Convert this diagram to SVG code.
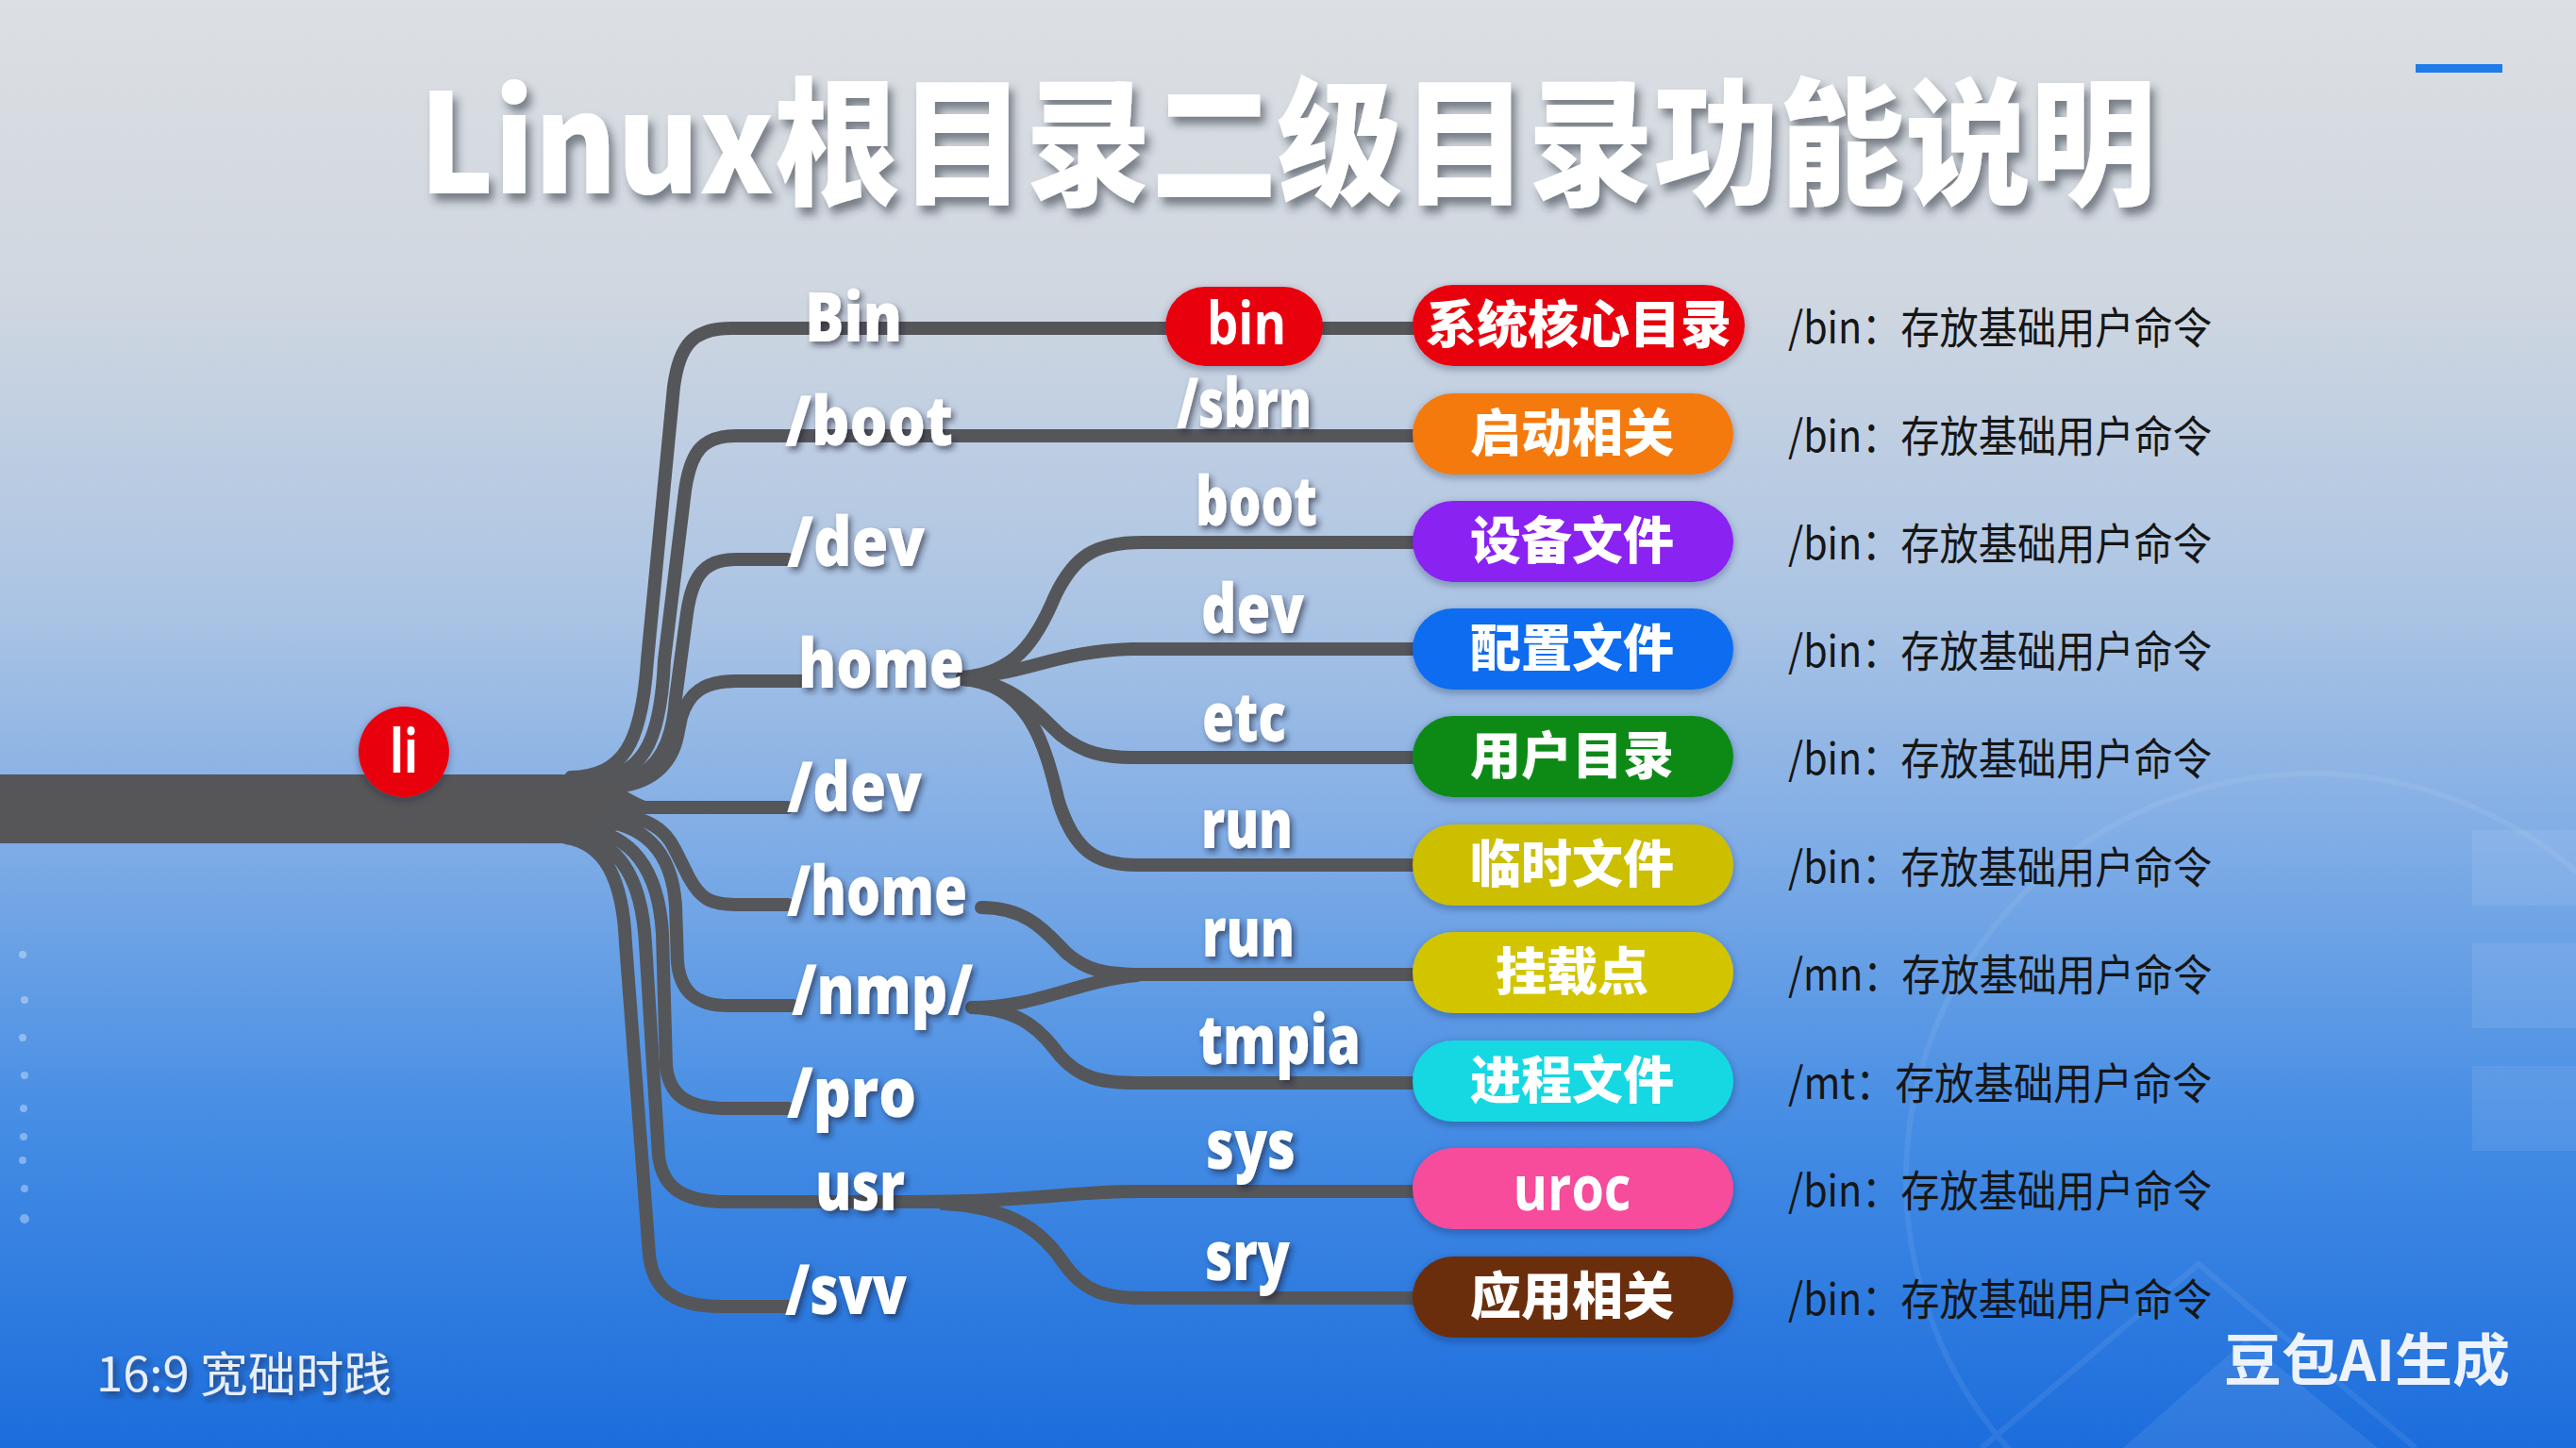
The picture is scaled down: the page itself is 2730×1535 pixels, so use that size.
<svg xmlns="http://www.w3.org/2000/svg" width="2730" height="1535" viewBox="0 0 2730 1535">
<defs>
  <linearGradient id="bg" x1="0" y1="0" x2="0" y2="1">
    <stop offset="0" stop-color="#dcdfe3"/>
    <stop offset="0.2" stop-color="#d0d7e0"/>
    <stop offset="0.42" stop-color="#abc4e4"/>
    <stop offset="0.58" stop-color="#80ade6"/>
    <stop offset="0.78" stop-color="#448ce4"/>
    <stop offset="1" stop-color="#1c6ddc"/>
  </linearGradient>
  <filter id="tshadow" x="-10%" y="-20%" width="130%" height="150%">
    <feDropShadow dx="5" dy="8" stdDeviation="5" flood-color="#2a2f3a" flood-opacity="0.55"/>
  </filter>
  <filter id="lshadow" x="-20%" y="-30%" width="150%" height="170%">
    <feDropShadow dx="3" dy="4" stdDeviation="3" flood-color="#1a2030" flood-opacity="0.6"/>
  </filter>
  <filter id="pshadow" x="-10%" y="-20%" width="130%" height="160%">
    <feDropShadow dx="0" dy="3" stdDeviation="4" flood-color="#10203a" flood-opacity="0.35"/>
  </filter>
  <style>
    .conn { fill: none; stroke: #555659; stroke-width: 14; stroke-linecap: round; stroke-linejoin: round; }
    .l1, .l2 { font-family: "Open Sans", "Noto Sans", sans-serif; font-weight: 800; font-size: 72px; fill: #ffffff; filter: url(#lshadow); }
    .pl { font-family: "Noto Sans CJK SC", "Noto Sans", sans-serif; font-weight: 900; font-size: 54px; fill: #ffffff; text-anchor: middle; }
    .pe { font-family: "Open Sans", "Noto Sans", sans-serif; font-weight: 700; fill: #ffffff; text-anchor: middle; }
    .desc { font-family: "Noto Sans CJK SC", "Noto Sans", sans-serif; font-size: 46px; fill: #161616; }
    .pill { filter: url(#pshadow); }
  </style>
</defs>

<rect x="0" y="0" width="2730" height="1535" fill="url(#bg)"/>
<!-- faint background decoration -->
<g opacity="0.07" fill="none" stroke="#ffffff" stroke-width="6">
  <circle cx="2450" cy="1250" r="430"/>
  <path d="M2100 1535 L2330 1340 L2560 1535"/>
</g>
<g opacity="0.08" fill="#ffffff">
  <rect x="2620" y="880" width="110" height="80"/>
  <rect x="2620" y="1000" width="110" height="90"/>
  <rect x="2620" y="1130" width="110" height="90"/>
  <polygon points="2250,1535 2380,1420 2520,1535"/>
</g>
<g fill="#ffffff" opacity="0.35">
  <circle cx="24" cy="1012" r="4"/><circle cx="26" cy="1060" r="4"/><circle cx="24" cy="1100" r="4"/>
  <circle cx="26" cy="1140" r="4"/><circle cx="25" cy="1175" r="4"/><circle cx="25" cy="1205" r="4"/>
  <circle cx="24" cy="1230" r="4"/><circle cx="26" cy="1260" r="4"/><circle cx="26" cy="1292" r="5"/>
</g>

<rect x="2560" y="68" width="92" height="9" fill="#1f7be8"/>

<g id="title">
  <text x="444" y="205" textLength="1841" lengthAdjust="spacingAndGlyphs" font-family="'Noto Sans CJK SC', 'Noto Sans', sans-serif" font-weight="900" font-size="146" fill="#ffffff" filter="url(#tshadow)">Linux根目录二级目录功能说明</text>
</g>

<!-- connectors -->
<g id="connectors">
  <path class="trunk" d="M0 821 L608 821 C645 821 662 842 690 851 L690 861 C662 870 645 894 608 894 L0 894 Z" fill="#565659"/>
  <!-- root to level 1 -->
  <path class="conn" d="M605 824 C660 822 680 790 686 700 L714 410 C720 365 735 348 775 348 L1497 348"/>
  <path class="conn" d="M625 826 C680 824 700 790 704 700 L726 520 C732 478 745 462 780 462 L1497 462"/>
  <path class="conn" d="M640 830 C690 828 712 800 716 740 L728 650 C734 608 748 593 780 593 L835 593"/>
  <path class="conn" d="M650 834 C690 832 712 810 718 780 L722 760 C730 735 745 722 780 722 L850 722"/>
  <path class="conn" d="M640 856 L835 856"/>
  <path class="conn" d="M640 862 C690 866 705 880 715 900 L730 930 C742 952 752 959 780 959 L835 959"/>
  <path class="conn" d="M630 870 C680 872 712 900 716 960 L718 1020 C721 1052 738 1066 772 1066 L840 1066"/>
  <path class="conn" d="M620 880 C668 884 698 920 702 990 L706 1130 C709 1160 727 1175 770 1175 L835 1175"/>
  <path class="conn" d="M610 886 C655 892 680 930 684 1000 L698 1225 C702 1260 725 1274 770 1274 L1000 1274"/>
  <path class="conn" d="M600 888 C640 894 660 930 663 1000 L688 1330 C692 1368 715 1385 765 1385 L835 1385"/>
  <!-- level 1 to level 2 -->
  <path class="conn" d="M1020 718 C1075 714 1098 680 1118 632 C1138 590 1160 575 1210 575 L1497 575"/>
  <path class="conn" d="M1020 718 C1085 716 1120 690 1200 688 L1497 688"/>
  <path class="conn" d="M1020 720 C1075 722 1100 758 1125 780 C1148 798 1170 803 1200 803 L1497 803"/>
  <path class="conn" d="M1020 720 C1090 725 1108 790 1122 850 C1138 900 1160 917 1205 917 L1497 917"/>
  <path class="conn" d="M1040 962 C1090 962 1110 990 1130 1010 C1150 1028 1170 1033 1210 1033 L1497 1033"/>
  <path class="conn" d="M1030 1068 C1100 1068 1140 1040 1205 1034"/>
  <path class="conn" d="M1030 1068 C1088 1070 1108 1100 1124 1120 C1144 1142 1165 1148 1205 1148 L1497 1148"/>
  <path class="conn" d="M960 1274 C1100 1274 1130 1263 1205 1263 L1497 1263"/>
  <path class="conn" d="M1000 1276 C1078 1280 1108 1310 1128 1340 C1148 1368 1170 1376 1210 1376 L1497 1376"/>
</g>

<g id="root">
  <circle cx="428" cy="797" r="48" fill="#e8060f" filter="url(#pshadow)"/>
  <text x="413" y="819" textLength="30" lengthAdjust="spacingAndGlyphs" font-family="'Open Sans', sans-serif" font-weight="700" font-size="64" fill="#ffffff">li</text>
</g>

<!-- level 1 labels -->
<g id="l1-bin"><text class="l1" x="853" y="362" textLength="103" lengthAdjust="spacingAndGlyphs">Bin</text></g>
<g id="l1-boot"><text class="l1" x="832" y="472" textLength="178" lengthAdjust="spacingAndGlyphs">/boot</text></g>
<g id="l1-dev1"><text class="l1" x="834" y="600" textLength="146" lengthAdjust="spacingAndGlyphs">/dev</text></g>
<g id="l1-home"><text class="l1" x="846" y="729" textLength="176" lengthAdjust="spacingAndGlyphs">home</text></g>
<g id="l1-dev2"><text class="l1" x="834" y="860" textLength="143" lengthAdjust="spacingAndGlyphs">/dev</text></g>
<g id="l1-home2"><text class="l1" x="834" y="970" textLength="191" lengthAdjust="spacingAndGlyphs">/home</text></g>
<g id="l1-nmp"><text class="l1" x="839" y="1075" textLength="192" lengthAdjust="spacingAndGlyphs">/nmp/</text></g>
<g id="l1-pro"><text class="l1" x="834" y="1184" textLength="137" lengthAdjust="spacingAndGlyphs">/pro</text></g>
<g id="l1-usr"><text class="l1" x="864" y="1283" textLength="95" lengthAdjust="spacingAndGlyphs">usr</text></g>
<g id="l1-svv"><text class="l1" x="832" y="1393" textLength="129" lengthAdjust="spacingAndGlyphs">/svv</text></g>

<!-- level 2 labels -->
<g id="n-bin">
  <rect class="pill" x="1235" y="304" width="167" height="84" rx="42" fill="#e8060f"/>
  <text class="pe" x="1321" y="365" font-size="62" textLength="84" lengthAdjust="spacingAndGlyphs">bin</text>
</g>
<g id="l2-sbrn"><text class="l2" x="1247" y="453" textLength="143" lengthAdjust="spacingAndGlyphs">/sbrn</text></g>
<g id="l2-boot"><text class="l2" x="1267" y="557" textLength="129" lengthAdjust="spacingAndGlyphs">boot</text></g>
<g id="l2-dev"><text class="l2" x="1273" y="671" textLength="109" lengthAdjust="spacingAndGlyphs">dev</text></g>
<g id="l2-etc"><text class="l2" x="1274" y="786" textLength="89" lengthAdjust="spacingAndGlyphs">etc</text></g>
<g id="l2-run1"><text class="l2" x="1273" y="899" textLength="97" lengthAdjust="spacingAndGlyphs">run</text></g>
<g id="l2-run2"><text class="l2" x="1274" y="1014" textLength="98" lengthAdjust="spacingAndGlyphs">run</text></g>
<g id="l2-tmpia"><text class="l2" x="1270" y="1128" textLength="172" lengthAdjust="spacingAndGlyphs">tmpia</text></g>
<g id="l2-sys"><text class="l2" x="1278" y="1239" textLength="95" lengthAdjust="spacingAndGlyphs">sys</text></g>
<g id="l2-sry"><text class="l2" x="1277" y="1357" textLength="90" lengthAdjust="spacingAndGlyphs">sry</text></g>

<!-- category pills -->
<g id="p1"><rect class="pill" x="1497" y="302" width="352" height="86" rx="43" fill="#e8060f"/><text class="pl" x="1673" y="364">系统核心目录</text></g>
<g id="p2"><rect class="pill" x="1497" y="417" width="340" height="86" rx="43" fill="#f47a0e"/><text class="pl" x="1666" y="479">启动相关</text></g>
<g id="p3"><rect class="pill" x="1497" y="531" width="340" height="86" rx="43" fill="#8a22f2"/><text class="pl" x="1666" y="593">设备文件</text></g>
<g id="p4"><rect class="pill" x="1497" y="645" width="340" height="86" rx="43" fill="#0c6cf0"/><text class="pl" x="1666" y="707">配置文件</text></g>
<g id="p5"><rect class="pill" x="1497" y="759" width="340" height="86" rx="43" fill="#0b8a14"/><text class="pl" x="1666" y="821">用户目录</text></g>
<g id="p6"><rect class="pill" x="1497" y="874" width="340" height="86" rx="43" fill="#cbbf06"/><text class="pl" x="1666" y="936">临时文件</text></g>
<g id="p7"><rect class="pill" x="1497" y="988" width="340" height="86" rx="43" fill="#d2c504"/><text class="pl" x="1666" y="1050">挂载点</text></g>
<g id="p8"><rect class="pill" x="1497" y="1103" width="340" height="86" rx="43" fill="#14d8e2"/><text class="pl" x="1666" y="1165">进程文件</text></g>
<g id="p9"><rect class="pill" x="1497" y="1217" width="340" height="86" rx="43" fill="#f74b9c"/><text class="pe" x="1666" y="1283" font-size="66" textLength="125" lengthAdjust="spacingAndGlyphs">uroc</text></g>
<g id="p10"><rect class="pill" x="1497" y="1332" width="340" height="86" rx="43" fill="#6b2d0a"/><text class="pl" x="1666" y="1394">应用相关</text></g>

<!-- descriptions -->
<g id="descriptions">
  <text class="desc" x="1895" y="364" textLength="449" lengthAdjust="spacingAndGlyphs">/bin：存放基础用户命令</text>
  <text class="desc" x="1895" y="479" textLength="449" lengthAdjust="spacingAndGlyphs">/bin：存放基础用户命令</text>
  <text class="desc" x="1895" y="593" textLength="449" lengthAdjust="spacingAndGlyphs">/bin：存放基础用户命令</text>
  <text class="desc" x="1895" y="707" textLength="449" lengthAdjust="spacingAndGlyphs">/bin：存放基础用户命令</text>
  <text class="desc" x="1895" y="821" textLength="449" lengthAdjust="spacingAndGlyphs">/bin：存放基础用户命令</text>
  <text class="desc" x="1895" y="936" textLength="449" lengthAdjust="spacingAndGlyphs">/bin：存放基础用户命令</text>
  <text class="desc" x="1895" y="1050" textLength="449" lengthAdjust="spacingAndGlyphs">/mn：存放基础用户命令</text>
  <text class="desc" x="1895" y="1165" textLength="449" lengthAdjust="spacingAndGlyphs">/mt：存放基础用户命令</text>
  <text class="desc" x="1895" y="1279" textLength="449" lengthAdjust="spacingAndGlyphs">/bin：存放基础用户命令</text>
  <text class="desc" x="1895" y="1394" textLength="449" lengthAdjust="spacingAndGlyphs">/bin：存放基础用户命令</text>
</g>

<g id="footer">
  <text x="102" y="1475" textLength="313" lengthAdjust="spacingAndGlyphs" font-family="'Noto Sans CJK SC', 'Noto Sans', sans-serif" font-size="50" fill="#e8eef8" filter="url(#lshadow)">16:9 宽础时践</text>
  <text x="2357" y="1464" textLength="303" lengthAdjust="spacingAndGlyphs" font-family="'Noto Sans CJK SC', 'Noto Sans', sans-serif" font-weight="700" font-size="60" fill="#eef3fb">豆包AI生成</text>
</g>
</svg>
